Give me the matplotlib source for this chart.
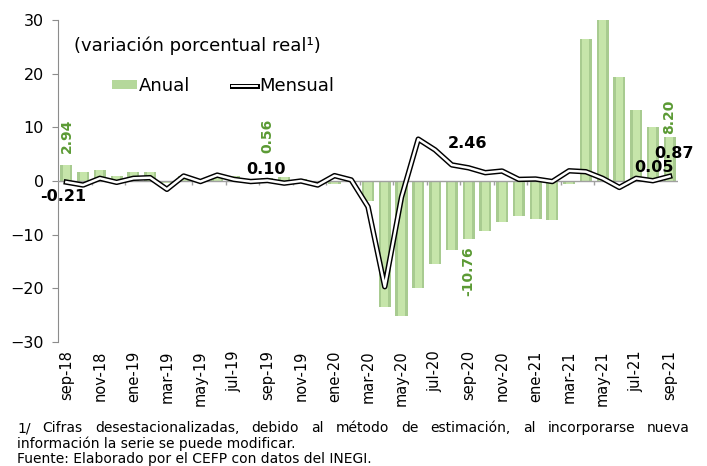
import numpy as np
import matplotlib
matplotlib.use('Agg')
import matplotlib.pyplot as plt
import matplotlib.patheffects as pe
from matplotlib.patches import Patch
from matplotlib.lines import Line2D

# meses sep-18 .. sep-21
meses = ['sep-18', 'oct-18', 'nov-18', 'dic-18', 'ene-19', 'feb-19', 'mar-19', 'abr-19',
         'may-19', 'jun-19', 'jul-19', 'ago-19', 'sep-19', 'oct-19', 'nov-19', 'dic-19',
         'ene-20', 'feb-20', 'mar-20', 'abr-20', 'may-20', 'jun-20', 'jul-20', 'ago-20',
         'sep-20', 'oct-20', 'nov-20', 'dic-20', 'ene-21', 'feb-21', 'mar-21', 'abr-21',
         'may-21', 'jun-21', 'jul-21', 'ago-21', 'sep-21']

# variacion anual (barras)
anual = [2.94, 1.7, 2.0, 0.9, 1.7, 1.7, -0.3, 0.9,
         0.2, 1.1, 0.9, 0.3, 0.56, 0.8, 0.3, -0.3,
         -0.5, -0.2, -3.7, -23.4, -25.1, -20.0, -15.5, -12.8,
         -10.76, -9.3, -7.6, -6.6, -7.1, -7.3, -0.6, 26.4,
         32.0, 19.3, 13.2, 10.0, 8.20]

# variacion mensual (linea)
mensual = [-0.21, -0.75, 0.5, -0.25, 0.5, 0.62, -1.55, 0.93,
           -0.1, 1.1, 0.3, -0.1, 0.10, -0.4, 0.0, -0.75,
           1.0, 0.2, -4.8, -19.7, -3.0, 7.8, 5.8, 3.0,
           2.46, 1.55, 1.86, 0.3, 0.37, -0.1, 1.9, 1.73,
           0.5, -1.2, 0.5, 0.05, 0.87]

# etiquetas de datos: (indice, texto)
etq_anual = [(0, '2.94'), (12, '0.56'), (24, '-10.76'), (36, '8.20')]
etq_mensual = [(0, '-0.21'), (12, '0.10'), (24, '2.46'), (35, '0.05'), (36, '0.87')]

notas = ['1/ Cifras desestacionalizadas, debido al método de estimación, al incorporarse nueva',
         'información la serie se puede modificar.',
         'Fuente: Elaborado por el CEFP con datos del INEGI.']

verde = '#5b9a34'
gris = '#8c8c8c'

plt.rcParams['font.family'] = ['DejaVu Sans']

fig = plt.figure(figsize=(7.07, 4.66), dpi=100)
ax = fig.add_axes([58/707, 1 - 342/466, 620/707, 322/466])

x = np.arange(len(meses))
ax.bar(x, anual, width=0.72, color='#a8cb90', zorder=2)
ax.bar(x, anual, width=0.42, color='#c6e5aa', zorder=2)

ax.plot(x, mensual, color='white', lw=1.8, zorder=4,
        path_effects=[pe.Stroke(linewidth=3.9, foreground='black'), pe.Normal()])

ax.set_xlim(-0.5, len(meses) - 0.5)
ax.set_ylim(-30, 30)
ax.set_yticks([-30, -20, -10, 0, 10, 20, 30])
ax.tick_params(axis='y', labelsize=11.5, length=4, color=gris, pad=6)
ax.set_xticks(x[::2])
ax.set_xticklabels(meses[::2], rotation=90, fontsize=10.5)
ax.tick_params(axis='x', length=0, pad=6)

for s in ['top', 'right', 'bottom']:
    ax.spines[s].set_visible(False)
ax.spines['left'].set_color(gris)

# eje en cero con marcas cada dos meses
ax.axhline(0, color='#a0a0a0', lw=1, zorder=3)
ax.vlines(x[1::2][:-1] + 0.5, -0.8, 0, color='#a0a0a0', lw=1, zorder=3)

for i, t in etq_anual:
    v = anual[i]
    if v >= 0:
        ax.text(i, max(v, 4.6) + 0.6, t, rotation=90, ha='center', va='bottom',
                color=verde, fontsize=10, fontweight='bold')
    else:
        ax.text(i, v - 1.4, t, rotation=90, ha='center', va='top',
                color=verde, fontsize=10, fontweight='bold')

pos_mensual = {0: (-0.17, -2.8), 12: (11.9, 2.05), 24: (23.95, 6.9),
               35: (35.07, 2.5), 36: (36.25, 5.2)}
for i, t in etq_mensual:
    px, py = pos_mensual[i]
    ax.text(px, py, t, ha='center', va='center', fontsize=11.5, fontweight='bold',
            color='black', zorder=5)

ax.text(0.026, 0.92, '(variación porcentual real¹)', transform=ax.transAxes,
        fontsize=13, va='center', ha='left')

h_anual = Patch(facecolor='#b5d89b', label='Anual')
h_mens = Line2D([], [], color='white', lw=1.4, label='Mensual',
                path_effects=[pe.Stroke(linewidth=3.6, foreground='black'), pe.Normal()])
ax.legend(handles=[h_anual, h_mens], loc='center left', bbox_to_anchor=(0.087, 0.795),
          ncol=2, frameon=False, fontsize=13, handlelength=1.4, handleheight=0.4,
          handletextpad=0.1, columnspacing=2.3, borderpad=0, borderaxespad=0)

# notas al pie, primera linea justificada
x0, x1 = 17, 690
renderer = fig.canvas.get_renderer()
for k, n in enumerate(notas):
    y = 1 - (428 + 15.5*k)/466
    if k == 0:
        palabras = n.split(' ')
        objs = [fig.text(0, y, p, fontsize=10, va='center', ha='left') for p in palabras]
        anchos = [o.get_window_extent(renderer).width for o in objs]
        hueco = (x1 - x0 - sum(anchos)) / (len(palabras) - 1)
        pos = x0
        for o, w in zip(objs, anchos):
            o.set_x(pos/707)
            pos += w + hueco
    else:
        fig.text(x0/707, y, n, fontsize=10, va='center', ha='left')

plt.savefig('out.png', dpi=100)
plt.close('all')
